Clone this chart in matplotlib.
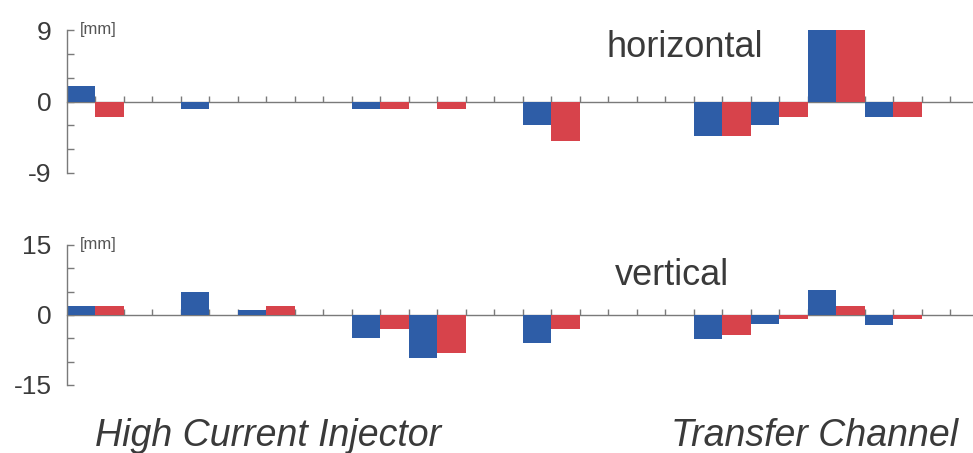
import matplotlib
matplotlib.use("Agg")
import matplotlib.pyplot as plt
import numpy as np

# one pair (blue, red) per element, 16 elements along the beamline
elements = list(range(16))
horiz_blue = [2, 0, -1, 0, 0, -1, 0, 0, -3, 0, 0, -4.3, -3, 9, -2, 0]
horiz_red = [-2, 0, 0, 0, 0, -1, -1, 0, -5, 0, 0, -4.3, -2, 9, -2, 0]
vert_blue = [2, 0, 5, 1, 0, -5, -9.3, 0, -6, 0, 0, -5.2, -2, 5.3, -2.2, 0]
vert_red = [2, 0, 0, 2, 0, -2.9, -8.2, 0, -2.9, 0, 0, -4.2, -0.8, 2, -0.8, 0]

h_ticks = [-9, -6, -3, 0, 3, 6, 9]
h_labels = ["-9", "", "", "0", "", "", "9"]
v_ticks = [-15, -10, -5, 0, 5, 10, 15]
v_labels = ["-15", "", "", "0", "", "", "15"]

panel_titles = ["horizontal", "vertical"]
section_labels = ["High Current Injector", "Transfer Channel"]

BLUE = "#2e5da7"
RED = "#d7434b"
AXC = "#7a7a7a"
TXT = "#3a3a3a"

W, H = 973, 453
fig = plt.figure(figsize=(W / 100, H / 100), dpi=100)
plt.rcParams['font.family'] = ['Liberation Sans', 'DejaVu Sans']

x0 = 66.7
xmax = (W - x0) / 28.5


def make_axes(top_px, bot_px):
    return fig.add_axes([x0 / W, (H - bot_px) / H, (W - x0) / W, (bot_px - top_px) / H])


def draw(ax, blue, red, ticks, labels, title, title_pos):
    idx = np.array(elements)
    ax.bar(2 * idx + 0.5, blue, width=1.0, color=BLUE, zorder=2)
    ax.bar(2 * idx + 1.5, red, width=1.0, color=RED, zorder=2)
    ax.set_xlim(0, xmax)
    ax.set_ylim(ticks[0], ticks[-1])
    for s in ["top", "right"]:
        ax.spines[s].set_visible(False)
    ax.spines["bottom"].set_position(("data", 0))
    ax.spines["bottom"].set_color(AXC)
    ax.spines["left"].set_color(AXC)
    ax.spines["bottom"].set_linewidth(1.0)
    ax.spines["left"].set_linewidth(1.0)
    ax.spines["bottom"].set_zorder(1)
    ax.set_xticks(np.arange(1, 32))
    ax.tick_params(axis="x", direction="in", length=4, color=AXC, labelbottom=False, width=1)
    ax.set_yticks(ticks)
    ax.set_yticklabels(labels)
    ax.tick_params(axis="y", direction="in", length=5, color=AXC, labelsize=19,
                   labelcolor=TXT, pad=11, width=1)
    ax.patch.set_alpha(0)
    ax.text(0.0147, 1.0, "[mm]", transform=ax.transAxes, fontsize=12, color="#555555",
            va="center", ha="left")
    ax.text(title_pos[0], title_pos[1], title, transform=ax.transAxes,
            fontsize=26, color=TXT, ha="center", va="center")


ax1 = make_axes(30, 173)
draw(ax1, horiz_blue, horiz_red, h_ticks, h_labels, panel_titles[0], (0.682, 0.88))
ax2 = make_axes(245, 385)
draw(ax2, vert_blue, vert_red, v_ticks, v_labels, panel_titles[1], (0.668, 0.785))

fig.text(268 / W, 1 - 436 / H, section_labels[0], fontsize=27, style="italic",
         color=TXT, ha="center", va="center")
fig.text(815 / W, 1 - 436 / H, section_labels[1], fontsize=27, style="italic",
         color=TXT, ha="center", va="center")

fig.savefig("out.png", dpi=100)
